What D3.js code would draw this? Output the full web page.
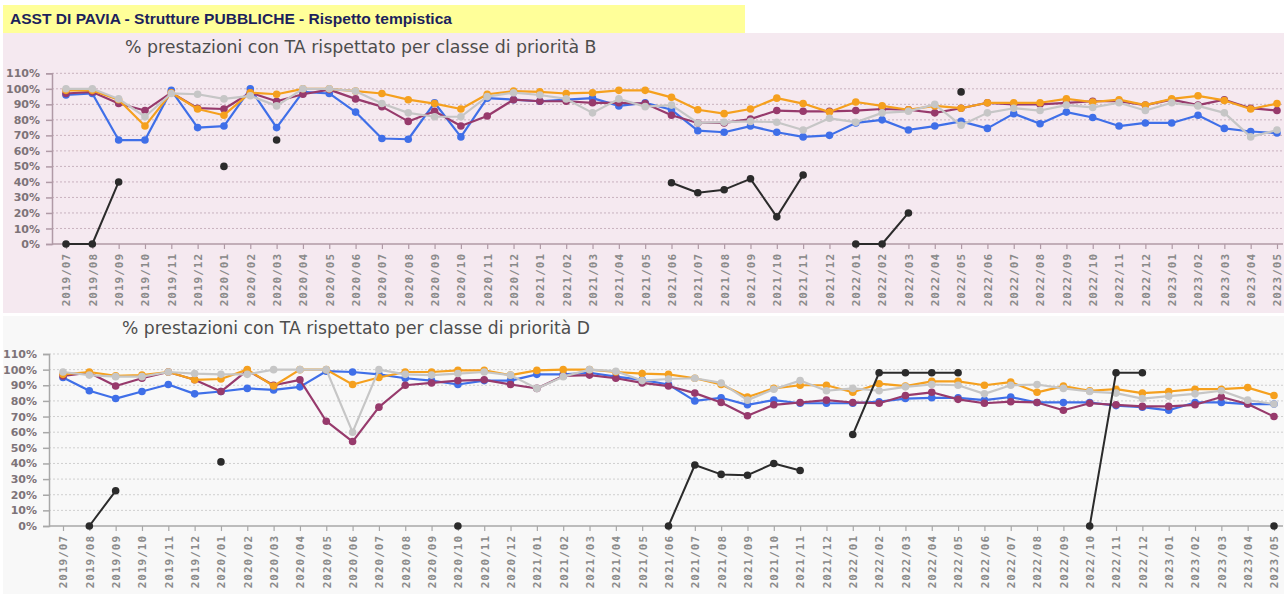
<!DOCTYPE html>
<html>
<head>
<meta charset="utf-8">
<script src="https://cdn.jsdelivr.net/npm/d3@7"></script>
<style>
  body { margin: 0; background: #fff; }
  svg { display: block; }
</style>
</head>
<body>
<div id="chart"></div>
<script>
// month labels (x categories)
const months = ["2019/07","2019/08","2019/09","2019/10","2019/11","2019/12",
  "2020/01","2020/02","2020/03","2020/04","2020/05","2020/06","2020/07","2020/08","2020/09","2020/10","2020/11","2020/12",
  "2021/01","2021/02","2021/03","2021/04","2021/05","2021/06","2021/07","2021/08","2021/09","2021/10","2021/11","2021/12",
  "2022/01","2022/02","2022/03","2022/04","2022/05","2022/06","2022/07","2022/08","2022/09","2022/10","2022/11","2022/12",
  "2023/01","2023/02","2023/03","2023/04","2023/05"];

const yTicks = [0,10,20,30,40,50,60,70,80,90,100,110];

// priorità B
const blueB   = [96,97,67,67,99,75,76,100,75,98,97,85,68,67.5,91,69,94,93,92,93,94,89,91,86.5,73,72,76,72,69,70,78,80,73.5,76,79,74.5,84,77.5,85,81.5,76,78,78,83,74.5,72.5,71.5];
const purpleB = [97,98,90.5,86,97.5,87.5,87,97.5,92,96.5,99.5,93.5,88.5,79,85.5,76,82.5,93,92,92,91,91,90.5,83,78,78,80.5,86,85.5,85.5,86,87,86.5,84.5,87.5,91,90,90,91,92,92,89.5,93,89.5,93,87.5,86];
const orangeB = [99,99,93,76,97.5,87,83,97.5,96.5,100,100,98.5,97,93,90.5,87,96.5,98.5,98,97,97.5,99,99,94.5,86.5,84,87,94,90.5,85,91.5,89,86.5,89,87.5,91,91,91,93.5,91.5,93,89.5,93.5,95.5,92.5,87,90.5];
const grayB   = [100,100,93.5,82,97,96.5,93.5,95.5,89,100,100,98.5,90.5,84.5,82,82,95,97.5,96,93.5,84.5,93.5,88.5,89.5,78,78.5,79,78.5,73.5,81,78.5,84.5,85.5,90,76.5,84.5,87.5,86,89.5,88,91,86,91,89,84.5,69,73.5];
const blackB  = [0,0,40,null,null,null,50,null,67,null,null,null,null,null,null,null,null,null,null,null,null,null,null,
  39.5,33,35,42,17.5,44.5,null,0,0,20,null,98,null,null,null,null,null,null,null,null,null,null,null,null];

// priorità D
const blueD   = [95,86.5,81.5,86,90.5,84.5,86,88,87,89,99,98.5,97,94.5,93,90.5,93,93,97,97,98,95.5,93.5,90.5,80,82,77.5,80.5,78.5,78.5,78.5,79.5,81.5,82,82,80.5,82.5,79,79,79,77,76,74,79,79,78,78];
const purpleD = [96,98,89.5,94.5,98.5,93.5,86,99.5,90,93.5,67,54,76,90,91.5,93,93.5,90.5,88,96,96.5,94.5,91.5,89.5,85,79,70.5,77.5,79,80.5,79,78.5,83.5,85.5,81,78.5,79.5,79,74,78.5,77.5,76.5,76.5,77.5,82.5,78,70];
const orangeD = [97,98.5,96,96.5,98.5,93.5,94,100,89.5,100,100,90.5,95,98.5,98.5,99.5,99.5,96.5,99.5,100,100,98.5,97.5,97,94.5,90.5,82.5,88,90,90,85.5,91,89.5,92.5,92.5,90,92,85.5,89.5,86.5,87.5,85,86,87.5,87.5,88.5,83.5];
const grayD   = [98.5,96.5,95.5,95.5,98.5,97.5,97,97,100,100,100,60,100,97,96.5,97.5,98.5,96.5,88,95.5,100,99,93,94,94.5,91.5,80.5,87.5,93,86.5,88,86.5,89,90.5,90,84.5,90,90.5,88,86,85,81.5,83,84.5,86.5,80.5,78];
const blackD  = [null,0,22.5,null,null,null,41,null,null,null,null,null,null,null,null,0,null,null,null,null,null,null,null,
  0,39,33,32.5,40,35.5,null,58.5,98,98,98,98,null,null,null,null,0,98,98,null,null,null,null,0];

const colors = {blue: "#3f6fe8", purple: "#973a6c", orange: "#f5a01e", gray: "#c6c6c6", black: "#2b2b2b"};

const W = 1287, H = 594;
const svg = d3.select("#chart").append("svg").attr("width", W).attr("height", H);

// header
svg.append("rect").attr("x", 3).attr("y", 5).attr("width", 742).attr("height", 28).attr("fill", "#ffff99");
let header = svg.append("text")
    .attr("x", 10).attr("y", 24)
    .style("font-family", "Liberation Sans, Arial, sans-serif")
    .style("font-weight", "bold")
    .style("font-size", "14px")
    .attr("fill", "#1c1f5c")
    .text("ASST DI PAVIA - Strutture PUBBLICHE - Rispetto tempistica");
fitText(header, 442, 14);

// panel backgrounds
svg.append("rect").attr("x", 3).attr("y", 33).attr("width", 1281).attr("height", 280).attr("fill", "#f5e9f0");
svg.append("rect").attr("x", 3).attr("y", 316).attr("width", 1281).attr("height", 278).attr("fill", "#f8f8f8");

function fitText(sel, target, size) {
    let w = sel.node().getComputedTextLength();
    sel.style("font-size", (size * target / w).toFixed(2) + "px");
}

function drawPanel(cfg) {
    let g = svg.append("g");

    let x = d3.scalePoint().domain(months).range(cfg.xRange);
    let y = d3.scaleLinear().domain([0, 110]).range([cfg.yBottom, cfg.yTop]);

    // title
    let t = g.append("text")
        .attr("x", cfg.titleX).attr("y", cfg.titleY)
        .style("font-family", "DejaVu Sans, sans-serif")
        .style("font-size", "16px")
        .attr("fill", "#4d4d4d")
        .text(cfg.title);
    fitText(t, cfg.titleW, 16);

    // grid
    g.selectAll(".grid").data(yTicks.filter(d => d > 0)).enter()
        .append("line")
        .attr("x1", cfg.axisX).attr("x2", cfg.gridRight)
        .attr("y1", d => y(d)).attr("y2", d => y(d))
        .attr("stroke", cfg.gridColor)
        .attr("stroke-width", 1)
        .attr("stroke-dasharray", "2,2");

    // y axis
    let ya = g.append("g")
        .attr("transform", `translate(${cfg.axisX},0)`)
        .call(d3.axisLeft(y).tickValues(yTicks).tickFormat(d => d + "%").tickSize(6).tickPadding(6));
    ya.select(".domain").attr("stroke", cfg.axisColor).attr("stroke-width", 1.5);
    ya.selectAll(".tick line").attr("stroke", cfg.axisColor).attr("stroke-width", 1.5);
    ya.selectAll("text")
        .style("font-family", "DejaVu Sans, sans-serif")
        .style("font-weight", "bold")
        .style("font-size", "11px")
        .attr("fill", "#7d7378");

    // x axis
    g.append("line")
        .attr("x1", cfg.axisX).attr("x2", cfg.gridRight)
        .attr("y1", cfg.yBottom).attr("y2", cfg.yBottom)
        .attr("stroke", cfg.axisColor).attr("stroke-width", 1.5);
    let xa = g.append("g")
        .attr("transform", `translate(0,${cfg.yBottom})`)
        .call(d3.axisBottom(x).tickSize(5));
    xa.select(".domain").remove();
    xa.selectAll(".tick line").attr("stroke", cfg.axisColor).attr("stroke-width", 1.2);
    xa.selectAll("text")
        .attr("transform", "rotate(-90)")
        .attr("x", -9).attr("y", 0).attr("dy", "0.35em")
        .attr("text-anchor", "end")
        .style("font-family", "DejaVu Sans Mono, monospace")
        .style("font-weight", "bold")
        .style("font-size", "11px")
        .style("letter-spacing", "1px")
        .attr("fill", "#8a8a8a");

    // series
    let line = d3.line()
        .defined(d => d != null)
        .x((d, i) => x(months[i]))
        .y(d => y(d));

    cfg.series.forEach(function(s) {
        g.append("path")
            .datum(s.values)
            .attr("d", line)
            .attr("fill", "none")
            .attr("stroke", s.color)
            .attr("stroke-width", s.width || 2.2)
            .attr("stroke-linejoin", "round");
        let pts = s.values.map((v, i) => ({v: v, m: months[i]})).filter(p => p.v != null);
        g.selectAll(null).data(pts).enter()
            .append("circle")
            .attr("cx", p => x(p.m))
            .attr("cy", p => y(p.v))
            .attr("r", 3.8)
            .attr("fill", s.color);
    });
}

drawPanel({
    title: "% prestazioni con TA rispettato per classe di priorità B",
    titleX: 125, titleY: 53, titleW: 472,
    xRange: [66, 1277], axisX: 52, gridRight: 1283,
    yTop: 73.3, yBottom: 244,
    gridColor: "#c9b2bf", axisColor: "#b09aa6",
    series: [
        {values: blueB, color: colors.blue},
        {values: purpleB, color: colors.purple},
        {values: orangeB, color: colors.orange},
        {values: grayB, color: colors.gray},
        {values: blackB, color: colors.black, width: 2}
    ]
});

drawPanel({
    title: "% prestazioni con TA rispettato per classe di priorità D",
    titleX: 122, titleY: 334, titleW: 468,
    xRange: [63, 1274], axisX: 49, gridRight: 1283,
    yTop: 354, yBottom: 526,
    gridColor: "#cfcfcf", axisColor: "#a8a8a8",
    series: [
        {values: blueD, color: colors.blue},
        {values: purpleD, color: colors.purple},
        {values: orangeD, color: colors.orange},
        {values: grayD, color: colors.gray},
        {values: blackD, color: colors.black, width: 2}
    ]
});
</script>
</body>
</html>
